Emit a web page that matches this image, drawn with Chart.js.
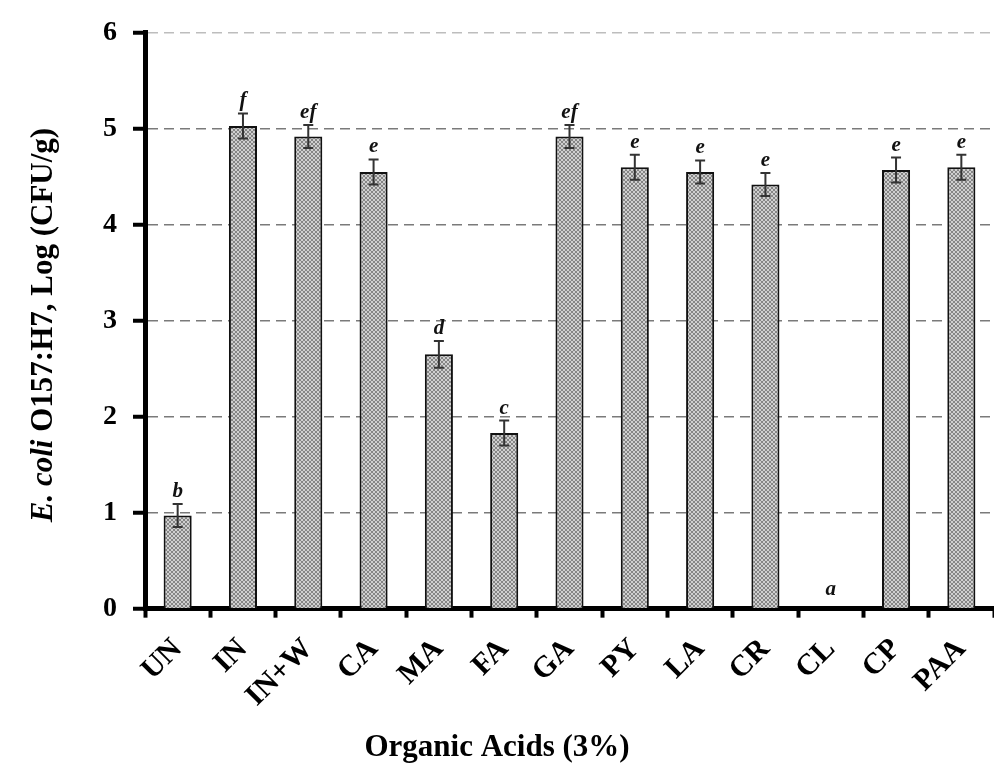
<!DOCTYPE html>
<html>
<head>
<meta charset="utf-8">
<script src="https://cdn.jsdelivr.net/npm/chart.js@4.4.1/dist/chart.umd.min.js"></script>
<style>
    html, body { margin: 0; padding: 0; background: #fff; }
    #wrap { position: relative; width: 994px; height: 775px; }
</style>
</head>
<body>
<div id="wrap"><canvas id="chart"></canvas></div>
<script>
// values
const categories = ['UN', 'IN', 'IN+W', 'CA', 'MA', 'FA', 'GA', 'PY', 'LA', 'CR', 'CL', 'CP', 'PAA'];
const means = [0.97, 5.03, 4.92, 4.55, 2.65, 1.83, 4.92, 4.60, 4.55, 4.42, 0, 4.57, 4.60];
const errors = [0.12, 0.13, 0.12, 0.13, 0.14, 0.13, 0.12, 0.13, 0.12, 0.12, 0, 0.13, 0.13];
const letters = ['b', 'f', 'ef', 'e', 'd', 'c', 'ef', 'e', 'e', 'e', 'a', 'e', 'e'];
const yTicks = [0, 1, 2, 3, 4, 5, 6];

const serif = '"Liberation Serif", "DejaVu Serif", serif';

// grey cross-hatch fill like the original bars
function hatch() {
    const c = document.createElement('canvas');
    c.width = 4; c.height = 4;
    const g = c.getContext('2d');
    g.fillStyle = '#cfcfcf';
    g.fillRect(0, 0, 4, 4);
    g.fillStyle = '#858585';
    [[0, 0], [1, 1], [2, 2], [3, 3], [3, 0], [2, 1], [1, 2], [0, 3]].forEach(p => g.fillRect(p[0], p[1], 1, 1));
    return g.createPattern(c, 'repeat');
}

const extras = {
    id: 'extras',
    afterDatasetsDraw(chart) {
        const ctx = chart.ctx;
        const x = chart.scales.x, y = chart.scales.y;
        ctx.save();
        means.forEach((m, i) => {
            const cx = x.getPixelForValue(i);
            const top = y.getPixelForValue(m + errors[i]);
            if (errors[i] > 0) {
                const bot = y.getPixelForValue(m - errors[i]);
                ctx.strokeStyle = '#333';
                ctx.lineWidth = 2;
                ctx.beginPath();
                ctx.moveTo(cx, top); ctx.lineTo(cx, bot);
                ctx.moveTo(cx - 5, top); ctx.lineTo(cx + 5, top);
                ctx.moveTo(cx - 5, bot); ctx.lineTo(cx + 5, bot);
                ctx.stroke();
            }
            ctx.fillStyle = '#111';
            ctx.font = 'italic bold 21px ' + serif;
            ctx.textAlign = 'center';
            ctx.textBaseline = 'alphabetic';
            ctx.fillText(letters[i], cx, top - (errors[i] > 0 ? 7 : 14));
        });

        // x title, centred on the page as in the original
        ctx.fillStyle = '#000';
        ctx.font = 'bold 31px ' + serif;
        ctx.textAlign = 'center';
        ctx.textBaseline = 'middle';
        ctx.fillText('Organic Acids (3%)', 497, 748);

        // y title with italic species name
        ctx.translate(44, 325);
        ctx.rotate(-Math.PI / 2);
        const a = 'E. coli ', b = 'O157:H7, Log (CFU/g)';
        const fa = 'italic bold 31px ' + serif, fb = 'bold 31px ' + serif;
        ctx.font = fa; const wa = ctx.measureText(a).width;
        ctx.font = fb; const wb = ctx.measureText(b).width;
        ctx.textAlign = 'left';
        ctx.font = fa; ctx.fillText(a, -(wa + wb) / 2, 0);
        ctx.font = fb; ctx.fillText(b, -(wa + wb) / 2 + wa, 0);
        ctx.restore();
    }
};

new Chart(document.getElementById('chart'), {
    type: 'bar',
    data: {
        labels: categories,
        datasets: [{
            data: means,
            backgroundColor: hatch(),
            borderColor: '#111',
            borderWidth: 2,
            borderSkipped: 'bottom',
            barPercentage: 0.43,
            categoryPercentage: 1
        }]
    },
    options: {
        responsive: true,
        maintainAspectRatio: false,
        animation: false,
        layout: { padding: { left: 87, right: 0, top: 18, bottom: 47 } },
        plugins: { legend: { display: false }, tooltip: { enabled: false } },
        scales: {
            y: {
                min: 0, max: 6,
                afterBuildTicks: s => { s.ticks = yTicks.map(v => ({ value: v })); },
                border: { color: '#000', width: 5, dash: [10, 6] },
                grid: {
                    color: c => c.tick && c.tick.value === 6 ? '#bdbdbd' : (c.tick && c.tick.value === 0 ? 'rgba(0,0,0,0)' : '#7a7a7a'),
                    lineWidth: 1.5,
                    tickColor: '#000',
                    tickWidth: 4,
                    tickLength: 12,
                    tickBorderDash: []
                },
                ticks: {
                    color: '#000',
                    padding: 16,
                    font: { family: serif, size: 28, weight: 'bold' }
                }
            },
            x: {
                afterFit: s => { s.paddingRight = 0; },
                border: { color: '#000', width: 5 },
                grid: {
                    offset: true,
                    drawOnChartArea: false,
                    tickColor: '#000',
                    tickWidth: 4,
                    tickLength: 9
                },
                ticks: {
                    color: '#000',
                    minRotation: 45,
                    maxRotation: 45,
                    padding: 14,
                    font: { family: serif, size: 30, weight: 'bold' }
                }
            }
        }
    },
    plugins: [extras]
});
</script>
</body>
</html>
